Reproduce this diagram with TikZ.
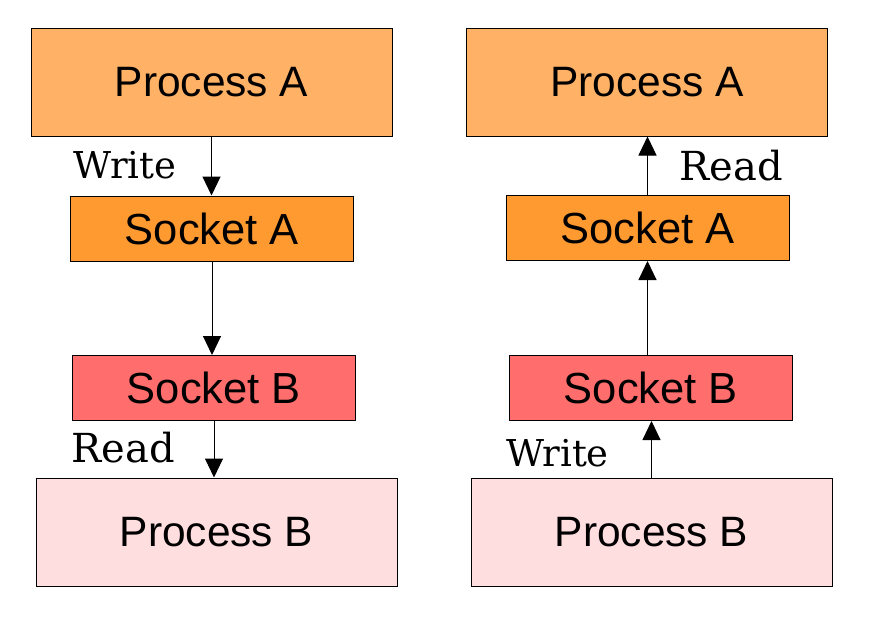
\documentclass[tikz,border=0pt]{standalone}
\usepackage{fontspec}
\setmainfont{Liberation Sans}
\newfontfamily\labelfont{DejaVu Serif}
\usetikzlibrary{arrows.meta}
\definecolor{procAcol}{HTML}{FFB266}
\definecolor{sockAcol}{HTML}{FF9A30}
\definecolor{sockBcol}{HTML}{FF6D6D}
\definecolor{procBcol}{HTML}{FFDEE0}
\tikzset{
  procbox/.style={draw, line width=1pt, minimum width=361pt, minimum height=108pt,
    inner sep=0pt, font=\fontsize{42.5}{50}\selectfont},
  sockbox/.style={draw, line width=1pt, minimum width=283pt, minimum height=65pt,
    inner sep=0pt, font=\fontsize{43.5}{50}\selectfont},
  flow/.style={line width=1pt, -{Triangle[width=18pt, length=19pt]}},
  smalllab/.style={font=\labelfont\fontsize{37}{44}\selectfont},
  biglab/.style={font=\labelfont\fontsize{40}{48}\selectfont}
}
\begin{document}
\begin{tikzpicture}[x=1pt, y=-1pt]
            \useasboundingbox (0,0) rectangle (870,616);
            % left: A writes, B reads
            \node [procbox, fill=procAcol] (pA1) at (211.5,82) {Process A};
            \node [sockbox, fill=sockAcol] (sA1) at (212,228.5) {Socket A};
            \node [sockbox, fill=sockBcol] (sB1) at (214,388) {Socket B};
            \node [procbox, fill=procBcol] (pB1) at (216.5,532) {Process B};
            \node [smalllab] (w1) at (125,165) {Write};
            \node [biglab] (r1) at (123,448) {Read};

            % right: B writes, A reads
            \node [procbox, fill=procAcol] (pA2) at (647,82) {Process A};
            \node [sockbox, fill=sockAcol] (sA2) at (647.5,228) {Socket A};
            \node [sockbox, fill=sockBcol] (sB2) at (651,388) {Socket B};
            \node [procbox, fill=procBcol] (pB2) at (651.5,532) {Process B};
            \node [biglab] (r2) at (731,166) {Read};
            \node [smalllab] (w2) at (557.5,453) {Write};

            \draw[flow] (pA1.south) -- (pA1.south |- sA1.north);
            \draw[flow] (sA1.south) -- (sA1.south |- sB1.north);
            \draw[flow] (sB1.south) -- (sB1.south |- pB1.north);
            \draw[flow] (pB2.north) -- (pB2.north |- sB2.south);
            \draw[flow] (sA2.south |- sB2.north) -- (sA2.south);
            \draw[flow] (sA2.north) -- (sA2.north |- pA2.south);
        \end{tikzpicture}
\end{document}
